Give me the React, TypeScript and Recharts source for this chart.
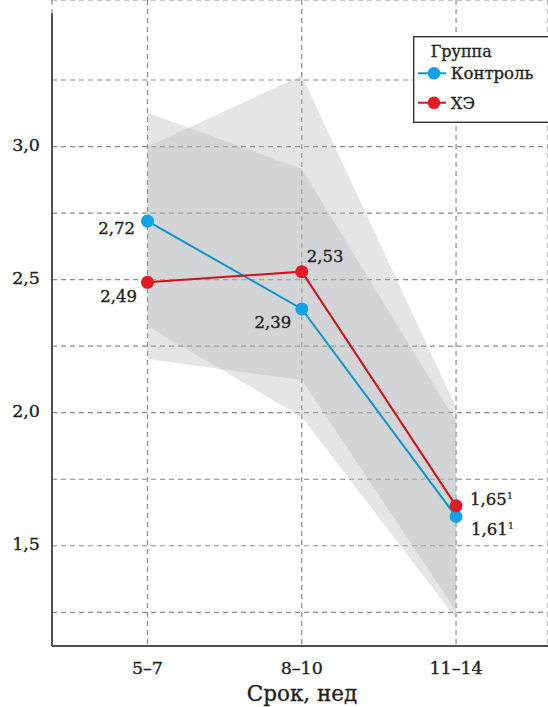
import {
  ComposedChart,
  Area,
  Line,
  XAxis,
  YAxis,
  CartesianGrid,
  ReferenceLine,
  Legend,
  LabelList,
  Label,
} from 'recharts'

// Gestational period groups
const periods = ['5–7', '8–10', '11–14']

// Mean values per group
const controlMean = [2.72, 2.39, 1.61]
const heMean = [2.49, 2.53, 1.65]

// Confidence band bounds
const controlLow = [2.326, 1.984, 1.227]
const controlHigh = [3.127, 2.916, 1.967]
const heLow = [2.202, 2.123, 1.255]
const heHigh = [2.999, 3.267, 2.02]

// Footnote marks after the value labels
const footnotes = ['', '', '1']

const yTicks = [1.25, 1.5, 1.75, 2.0, 2.25, 2.5, 2.75, 3.0, 3.25]

const X_MIN = 0.381
const X_MAX = 3.596
const Y_MIN = 1.1234
const Y_MAX = 3.5506
const Y_AXIS_TOP = 3.5

const FONT = '"DejaVu Serif", "Liberation Serif", serif'
const TEXT = '#231f20'
// a thin outline gives the serif text a little more weight
const HEAVY = { stroke: TEXT, strokeWidth: 0.35 }

const BLUE_LINE = '#0a94d0'
const BLUE_DOT = '#12a4e2'
const RED_LINE = '#cf121d'
const RED_DOT = '#e01b25'
const BAND = '#b2b4b8'

const data = periods.map((p, i) => ({
  x: i + 1,
  period: p,
  control: controlMean[i],
  he: heMean[i],
  controlBand: [controlLow[i], controlHigh[i]],
  heBand: [heLow[i], heHigh[i]],
  note: footnotes[i],
}))

// label placement relative to each point: [dx, dy, anchor]
const controlLabelPos: Array<[number, number, 'start' | 'end']> = [
  [-12.5, 12.5, 'end'],
  [-10.5, 19.5, 'end'],
  [15, 18.5, 'start'],
]
const heLabelPos: Array<[number, number, 'start' | 'end']> = [
  [-10.5, 20, 'end'],
  [5, -10, 'start'],
  [14, -1, 'start'],
]

const fmt = (v: number, digits: number) => v.toFixed(digits).replace('.', ',')

function makeValueLabel(pos: Array<[number, number, 'start' | 'end']>) {
  return (props: any) => {
    const { x, y, value, index } = props
    const [dx, dy, anchor] = pos[index]
    const note = footnotes[index]
    return (
      <text
        x={x + dx}
        y={y + dy}
        textAnchor={anchor}
        fontFamily={FONT}
        fontSize={16.5}
        fill={TEXT}
        {...HEAVY}
      >
        {fmt(Number(value), 2)}
        {note ? (
          <tspan fontSize={10} dy={-6} strokeWidth={0.2}>
            {note}
          </tspan>
        ) : null}
      </text>
    )
  }
}

const YTick = (props: any) => {
  const { x, y, payload } = props
  const v = payload.value as number
  if (Math.abs(v * 2 - Math.round(v * 2)) > 1e-6) return null
  return (
    <text x={x - 12} y={y + 4.5} textAnchor="end" fontFamily={FONT} fontSize={17.5} fill={TEXT} {...HEAVY}>
      {fmt(v, 1)}
    </text>
  )
}

const XTick = (props: any) => {
  const { x, y, payload } = props
  return (
    <text x={x} y={y + 28} textAnchor="middle" fontFamily={FONT} fontSize={17.5} fill={TEXT} {...HEAVY}>
      {periods[payload.value - 1]}
    </text>
  )
}

const legendItems = [
  { name: 'Контроль', line: BLUE_LINE, dot: BLUE_DOT },
  { name: 'ХЭ', line: RED_LINE, dot: RED_DOT },
]

const LegendBox = () => (
  <svg width={150} height={88} style={{ display: 'block' }}>
    <rect x={0.7} y={0.7} width={160} height={85.6} fill="#fff" stroke="#333" strokeWidth={1.4} />
    <text x={17.7} y={20.7} fontFamily={FONT} fontSize={16} fill={TEXT} {...HEAVY}>
      Группа
    </text>
    {legendItems.map((it, i) => {
      const cy = 37.3 + i * 29.4
      return (
        <g key={it.name}>
          <line x1={5} x2={33} y1={cy} y2={cy} stroke={it.line} strokeWidth={2} />
          <circle cx={21} cy={cy} r={6.3} fill={it.dot} />
          <text x={37.7} y={cy + 5.8} fontFamily={FONT} fontSize={16.5} fill={TEXT} {...HEAVY}>
            {it.name}
          </text>
        </g>
      )
    })}
  </svg>
)

export default function App() {
  return (
    <div
      style={{
        position: 'absolute',
        left: 0,
        top: 0,
        width: 548,
        height: 707,
        overflow: 'hidden',
        background: '#fff',
      }}
    >
      <ComposedChart width={548} height={707} data={data} margin={{ top: 0, right: 0, bottom: 0, left: 0 }}>
        <CartesianGrid stroke="#8a8a8a" strokeWidth={1.2} strokeDasharray="5 4" />
        <XAxis
          dataKey="x"
          type="number"
          domain={[X_MIN, X_MAX]}
          ticks={[1, 2, 3]}
          height={61}
          tickSize={0}
          tickMargin={0}
          tickLine={false}
          axisLine={{ stroke: '#4f4f4f', strokeWidth: 2 }}
          tick={<XTick />}
          allowDataOverflow
        >
          <Label
            content={(props: any) => {
              const vb = props.viewBox
              return (
                <text
                  x={vb.x + vb.width / 2 + 2}
                  y={vb.y + 55}
                  textAnchor="middle"
                  fontFamily={FONT}
                  fontSize={21.5}
                  fill={TEXT}
                  {...HEAVY}
                >
                  Срок, нед
                </text>
              )
            }}
          />
        </XAxis>
        <YAxis
          type="number"
          domain={[Y_MIN, Y_MAX]}
          ticks={yTicks}
          width={52}
          tickSize={0}
          tickMargin={0}
          tickLine={false}
          axisLine={false}
          tick={<YTick />}
          allowDataOverflow
        />
        <ReferenceLine
          segment={[
            { x: X_MIN, y: Y_MIN },
            { x: X_MIN, y: Y_AXIS_TOP },
          ]}
          stroke="#4f4f4f"
          strokeWidth={2}
          ifOverflow="visible"
        />
        <Area
          dataKey="controlBand"
          type="linear"
          stroke="none"
          fill={BAND}
          fillOpacity={0.35}
          isAnimationActive={false}
          activeDot={false}
        />
        <Area
          dataKey="heBand"
          type="linear"
          stroke="none"
          fill={BAND}
          fillOpacity={0.35}
          isAnimationActive={false}
          activeDot={false}
        />
        <Line
          dataKey="control"
          type="linear"
          stroke={BLUE_LINE}
          strokeWidth={2}
          dot={{ r: 6.5, fill: BLUE_DOT, stroke: 'none' }}
          activeDot={false}
          isAnimationActive={false}
        >
          <LabelList dataKey="control" content={makeValueLabel(controlLabelPos)} />
        </Line>
        <Line
          dataKey="he"
          type="linear"
          stroke={RED_LINE}
          strokeWidth={2}
          dot={{ r: 6.5, fill: RED_DOT, stroke: 'none' }}
          activeDot={false}
          isAnimationActive={false}
        >
          <LabelList dataKey="he" content={makeValueLabel(heLabelPos)} />
        </Line>
        <Legend
          layout="horizontal"
          verticalAlign="middle"
          align="center"
          content={() => <LegendBox />}
          wrapperStyle={{ position: 'absolute', top: 36, left: 413, width: 150, height: 88 }}
        />
      </ComposedChart>
    </div>
  )
}
